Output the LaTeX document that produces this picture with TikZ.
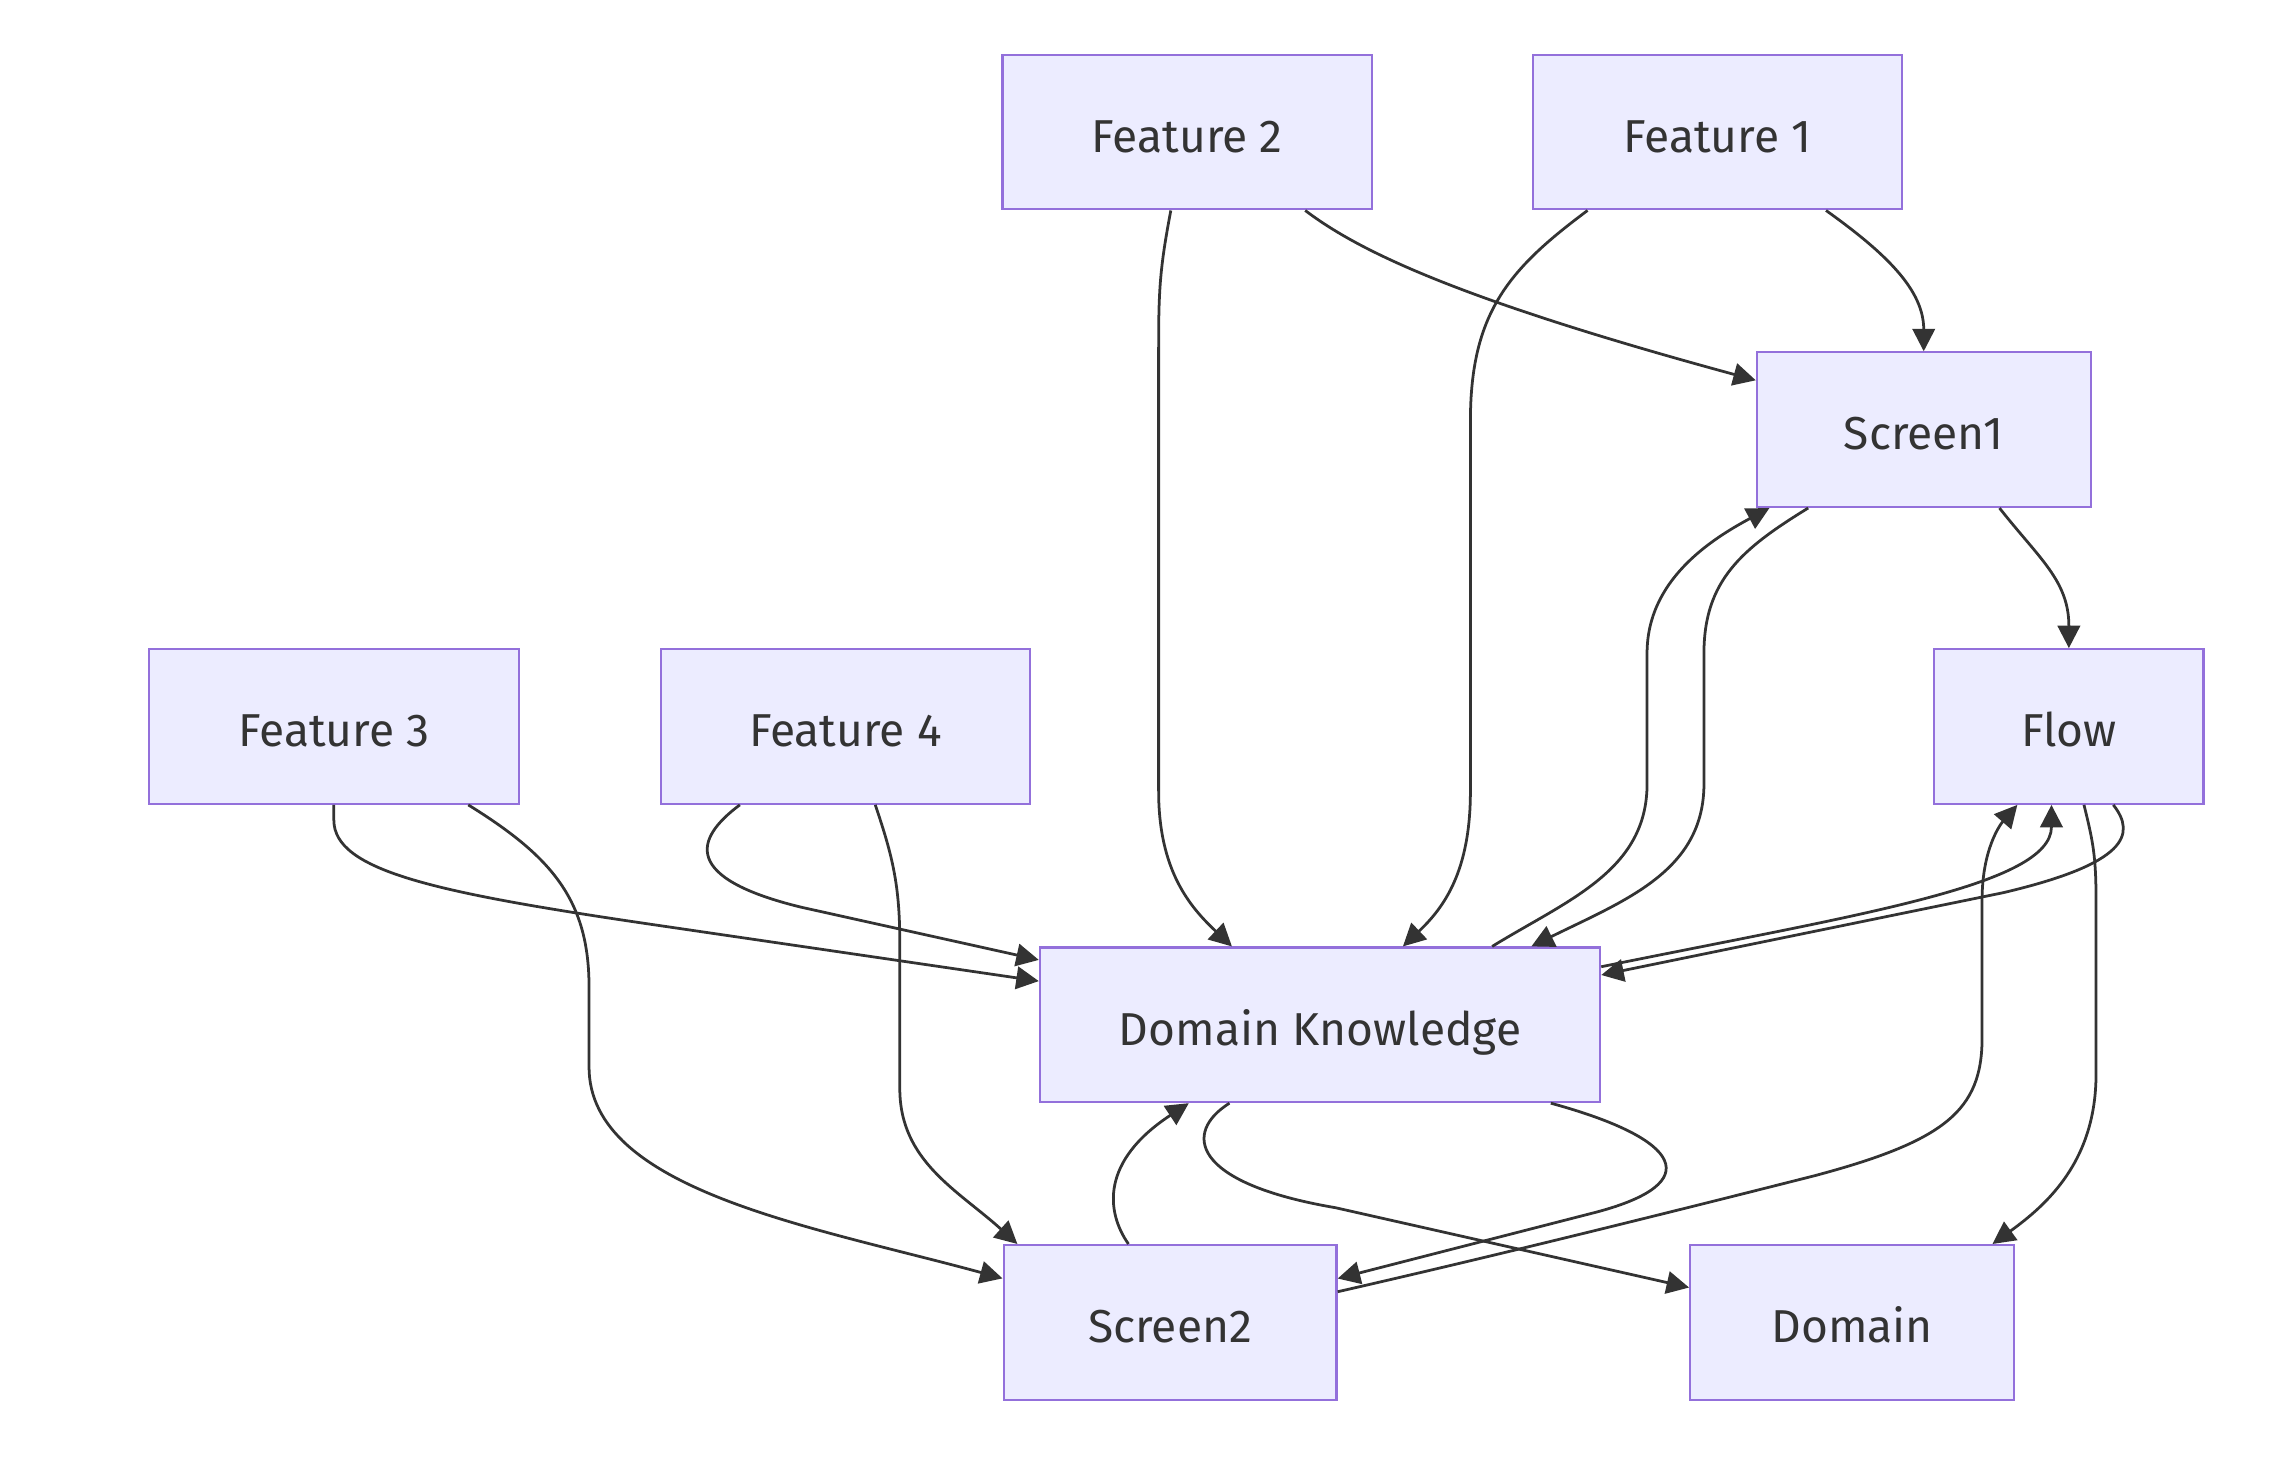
\documentclass[tikz,border=0pt]{standalone}
\usepackage{fontspec}
\setmainfont{Fira Sans}
\usetikzlibrary{arrows.meta,calc}
\definecolor{boxfill}{HTML}{ECECFF}
\definecolor{boxline}{HTML}{9370DB}
\definecolor{edgec}{HTML}{333333}
\definecolor{textc}{HTML}{333333}
\tikzset{
  box/.style={draw=boxline, fill=boxfill, line width=1.5pt, minimum height=106.5pt,
    inner sep=0pt, text=textc, font=\fontsize{31.8}{38}\selectfont,
    text height=28pt, text depth=0pt},
  edge/.style={draw=edgec, line width=1.9pt, -{Triangle[length=15.5pt,width=15.5pt]}}
}
\begin{document}
\begin{tikzpicture}[x=1pt,y=-1pt]
\fill[white] (0,0) rectangle (1568,1015.5);
\useasboundingbox (0,0) rectangle (1568,1015.5);

\node[box, minimum width=254.5pt] (f2) at (817.9,91) {Feature 2};
\node[box, minimum width=254pt] (f1) at (1183.2,91) {Feature 1};
\node[box, minimum width=229.9pt] (s1) at (1325.3,296) {Screen1};
\node[box, minimum width=254.7pt] (f3) at (230,500.5) {Feature 3};
\node[box, minimum width=254pt] (f4) at (582.4,500.5) {Feature 4};
\node[box, minimum width=185.4pt] (flow) at (1425.3,500.5) {Flow};
\node[box, minimum width=386pt] (dk) at (909.4,706) {Domain Knowledge};
\node[box, minimum width=229.4pt] (s2) at (806.1,911) {Screen2};
\node[box, minimum width=223pt] (dom) at (1275.9,911) {Domain};

% Feature 2 -> Screen1
\draw[edge] ([xshift=81.3pt]f2.south) .. controls (935,172) and (1000,205) .. ([yshift=34pt]s1.west);
% Feature 2 -> Domain Knowledge
\draw[edge] ([xshift=-11.3pt]f2.south) .. controls (799,185) and (798.2,200) .. (798.2,240) -- (798.2,545) .. controls (798.2,600) and (820,625) .. ([xshift=-60.7pt]dk.north);
% Feature 1 -> Domain Knowledge
\draw[edge] ([xshift=-89.5pt]f1.south) .. controls (1040,185) and (1013,215) .. (1013,290) -- (1013,545) .. controls (1013,600) and (995,625) .. ([xshift=57.1pt]dk.north);
% Feature 1 -> Screen1
\draw[edge] ([xshift=74.8pt]f1.south) .. controls (1300,175) and (1325.3,200) .. (s1.north);
% Screen1 -> Flow
\draw[edge] ([xshift=52.2pt]s1.south) .. controls (1405,385) and (1425.3,400) .. (flow.north);
% Domain Knowledge -> Screen1
\draw[edge] ([xshift=118.6pt]dk.north) .. controls (1080,620) and (1134.7,600) .. (1134.7,540) -- (1134.7,450) .. controls (1134.7,400) and (1178,372) .. ([xshift=-106.3pt]s1.south);
% Screen1 -> Domain Knowledge
\draw[edge] ([xshift=-79.6pt]s1.south) .. controls (1200,378) and (1173.9,400) .. (1173.9,450) -- (1173.9,540) .. controls (1173.9,600) and (1120,620) .. ([xshift=145.6pt]dk.north);
% Feature 3 -> Domain Knowledge
\draw[edge] (f3.south) -- (230,565) .. controls (230,600) and (300,615) .. (450,637) -- ([yshift=30.1pt]dk.west);
% Feature 3 -> Screen2
\draw[edge] ([xshift=92.6pt]f3.south) .. controls (380,590) and (405.8,620) .. (405.8,680) -- (405.8,735) .. controls (405.8,820) and (560,845) .. ([yshift=30.3pt]s2.west);
% Feature 4 -> Domain Knowledge
\draw[edge] ([xshift=-72.7pt]f4.south) .. controls (478,578) and (470,605) .. (552,625) -- ([yshift=44.7pt]dk.west);
% Feature 4 -> Screen2
\draw[edge] ([xshift=20.6pt]f4.south) .. controls (615,590) and (619.9,610) .. (619.9,650) -- (619.9,750) .. controls (619.9,800) and (660,820) .. ([xshift=-105.2pt]s2.north);
% Flow -> Domain Knowledge
\draw[edge] ([xshift=30.6pt]flow.south) .. controls (1472,575) and (1465,595) .. (1380,615) -- ([yshift=34.3pt]dk.east);
% Domain Knowledge -> Flow
\draw[edge] ([yshift=40pt]dk.east) .. controls (1280,630) and (1413.3,610) .. ([xshift=-12pt]flow.south);
% Flow -> Domain
\draw[edge] ([xshift=10.4pt]flow.south) .. controls (1442,580) and (1444,590) .. (1444,620) -- (1444,740) .. controls (1444,800) and (1410,830) .. ([xshift=96.8pt]dom.north);
% Screen2 -> Flow
\draw[edge] ([yshift=21.1pt]s2.east) .. controls (1000,872) and (1100,848) .. (1250,810) .. controls (1340,786) and (1365.5,765) .. (1365.5,715) -- (1365.5,620) .. controls (1365.5,585) and (1378,568) .. ([xshift=-35.5pt]flow.south);
% Screen2 -> Domain Knowledge
\draw[edge] ([xshift=-28.7pt]s2.north) .. controls (762,835) and (758,800) .. ([xshift=-90.4pt]dk.south);
% Domain Knowledge -> Screen2
\draw[edge] ([xshift=159pt]dk.south) .. controls (1160,785) and (1175,815) .. (1100,835) -- ([yshift=30.2pt]s2.east);
% Domain Knowledge -> Domain
\draw[edge] ([xshift=-62.4pt]dk.south) .. controls (815,780) and (820,815) .. (920,832) -- ([yshift=24pt]dom.west);
\end{tikzpicture}
\end{document}
